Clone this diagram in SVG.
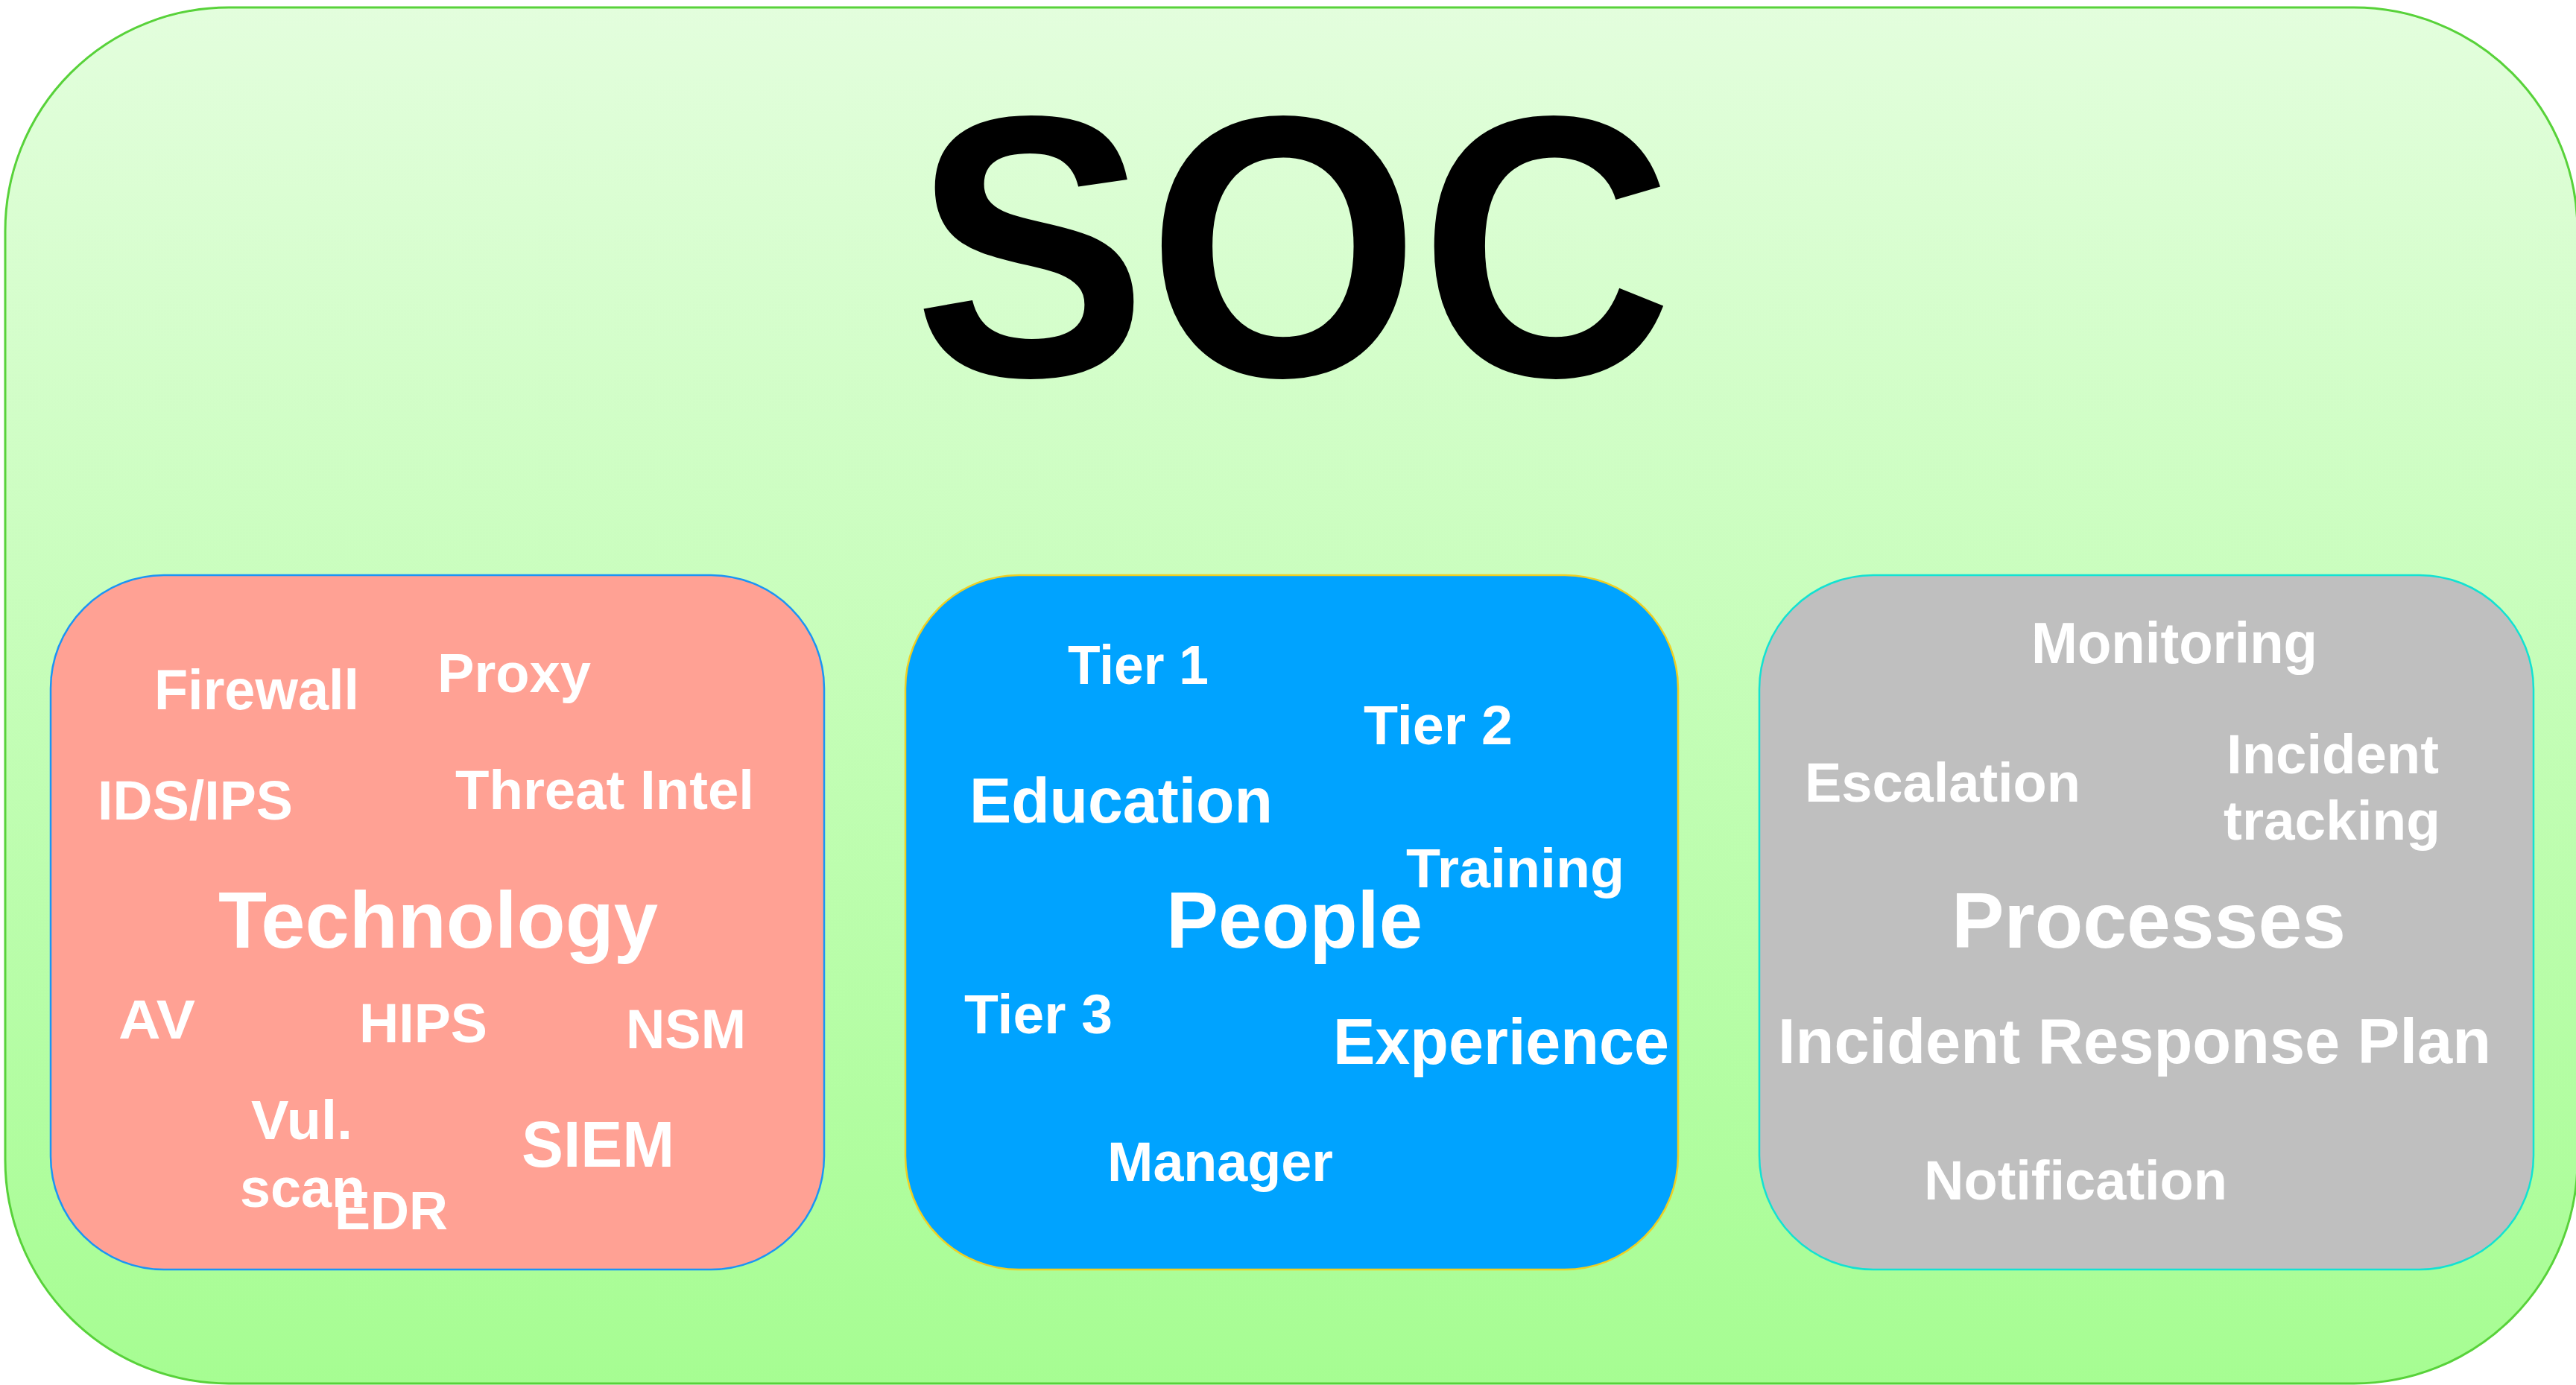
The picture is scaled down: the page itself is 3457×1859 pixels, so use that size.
<svg xmlns="http://www.w3.org/2000/svg" width="3457" height="1859" viewBox="0 0 3457 1859">
  <defs>
    <linearGradient id="socFill" x1="0" y1="10" x2="0" y2="1857" gradientUnits="userSpaceOnUse">
      <stop offset="0" stop-color="#E3FEDD"/>
      <stop offset="1" stop-color="#A6FD92"/>
    </linearGradient>
    <style>
      .lbl { font-family: "Liberation Sans", Arial, sans-serif; font-weight: bold; fill: #FFFFFF; }
      .title { font-family: "Liberation Sans", Arial, sans-serif; font-weight: bold; fill: #000000; }
      .box { stroke-width: 2.5; }
    </style>
  </defs>

  <rect width="3457" height="1859" fill="#FFFFFF"/>

  <!-- outer SOC container -->
  <g id="soc">
    <rect x="7" y="10" width="3452" height="1847" rx="300" ry="300" fill="url(#socFill)" stroke="#58D23A" stroke-width="3"/>
    <text class="title" x="1226" y="504" font-size="500" textLength="1019" lengthAdjust="spacingAndGlyphs">SOC</text>
  </g>

  <!-- Technology pillar -->
  <g id="technology">
    <rect class="box" x="68" y="772" width="1038" height="932" rx="152" ry="152" fill="#FFA194" stroke="#1A95F5"/>
    <text class="lbl" x="207" y="952" font-size="76" textLength="275" lengthAdjust="spacingAndGlyphs">Firewall</text>
    <text class="lbl" x="587" y="929" font-size="74" textLength="206" lengthAdjust="spacingAndGlyphs">Proxy</text>
    <text class="lbl" x="131" y="1100" font-size="74" textLength="262" lengthAdjust="spacingAndGlyphs">IDS/IPS</text>
    <text class="lbl" x="611" y="1086" font-size="74" textLength="401" lengthAdjust="spacingAndGlyphs">Threat Intel</text>
    <text class="lbl" x="293" y="1272" font-size="107" textLength="590" lengthAdjust="spacingAndGlyphs">Technology</text>
    <text class="lbl" x="159" y="1394" font-size="74" textLength="103" lengthAdjust="spacingAndGlyphs">AV</text>
    <text class="lbl" x="482" y="1399" font-size="75" textLength="172" lengthAdjust="spacingAndGlyphs">HIPS</text>
    <text class="lbl" x="840" y="1407" font-size="74" textLength="161" lengthAdjust="spacingAndGlyphs">NSM</text>
    <text class="lbl" x="337" y="1529" font-size="74" textLength="136" lengthAdjust="spacingAndGlyphs">Vul.</text>
    <text class="lbl" x="322" y="1620" font-size="74" textLength="168" lengthAdjust="spacingAndGlyphs">scan</text>
    <text class="lbl" x="449" y="1650" font-size="73" textLength="152" lengthAdjust="spacingAndGlyphs">EDR</text>
    <text class="lbl" x="700" y="1566" font-size="88" textLength="205" lengthAdjust="spacingAndGlyphs">SIEM</text>
  </g>

  <!-- People pillar -->
  <g id="people">
    <rect class="box" x="1215" y="772" width="1037" height="932" rx="152" ry="152" fill="#00A3FF" stroke="#EFD022"/>
    <text class="lbl" x="1433" y="918" font-size="75" textLength="189" lengthAdjust="spacingAndGlyphs">Tier 1</text>
    <text class="lbl" x="1830" y="999" font-size="75" textLength="200" lengthAdjust="spacingAndGlyphs">Tier 2</text>
    <text class="lbl" x="1301" y="1104" font-size="86" textLength="407" lengthAdjust="spacingAndGlyphs">Education</text>
    <text class="lbl" x="1887" y="1191" font-size="75" textLength="293" lengthAdjust="spacingAndGlyphs">Training</text>
    <text class="lbl" x="1565" y="1272" font-size="107" textLength="344" lengthAdjust="spacingAndGlyphs">People</text>
    <text class="lbl" x="1294" y="1387" font-size="75" textLength="199" lengthAdjust="spacingAndGlyphs">Tier 3</text>
    <text class="lbl" x="1789" y="1428" font-size="87" textLength="451" lengthAdjust="spacingAndGlyphs">Experience</text>
    <text class="lbl" x="1486" y="1585" font-size="74" textLength="303" lengthAdjust="spacingAndGlyphs">Manager</text>
  </g>

  <!-- Processes pillar -->
  <g id="processes">
    <rect class="box" x="2361" y="772" width="1039" height="932" rx="153" ry="153" fill="#BFBFBF" stroke="#12E2D2"/>
    <text class="lbl" x="2726" y="890" font-size="77" textLength="384" lengthAdjust="spacingAndGlyphs">Monitoring</text>
    <text class="lbl" x="2422" y="1076" font-size="74" textLength="370" lengthAdjust="spacingAndGlyphs">Escalation</text>
    <text class="lbl" x="2988" y="1038" font-size="74" textLength="285" lengthAdjust="spacingAndGlyphs">Incident</text>
    <text class="lbl" x="2984" y="1127" font-size="74" textLength="291" lengthAdjust="spacingAndGlyphs">tracking</text>
    <text class="lbl" x="2619" y="1272" font-size="105" textLength="529" lengthAdjust="spacingAndGlyphs">Processes</text>
    <text class="lbl" x="2386" y="1427" font-size="86" textLength="957" lengthAdjust="spacingAndGlyphs">Incident Response Plan</text>
    <text class="lbl" x="2582" y="1610" font-size="74" textLength="407" lengthAdjust="spacingAndGlyphs">Notification</text>
  </g>

  <!-- no connectors in this chart -->
  <g id="connectors"/>
</svg>
